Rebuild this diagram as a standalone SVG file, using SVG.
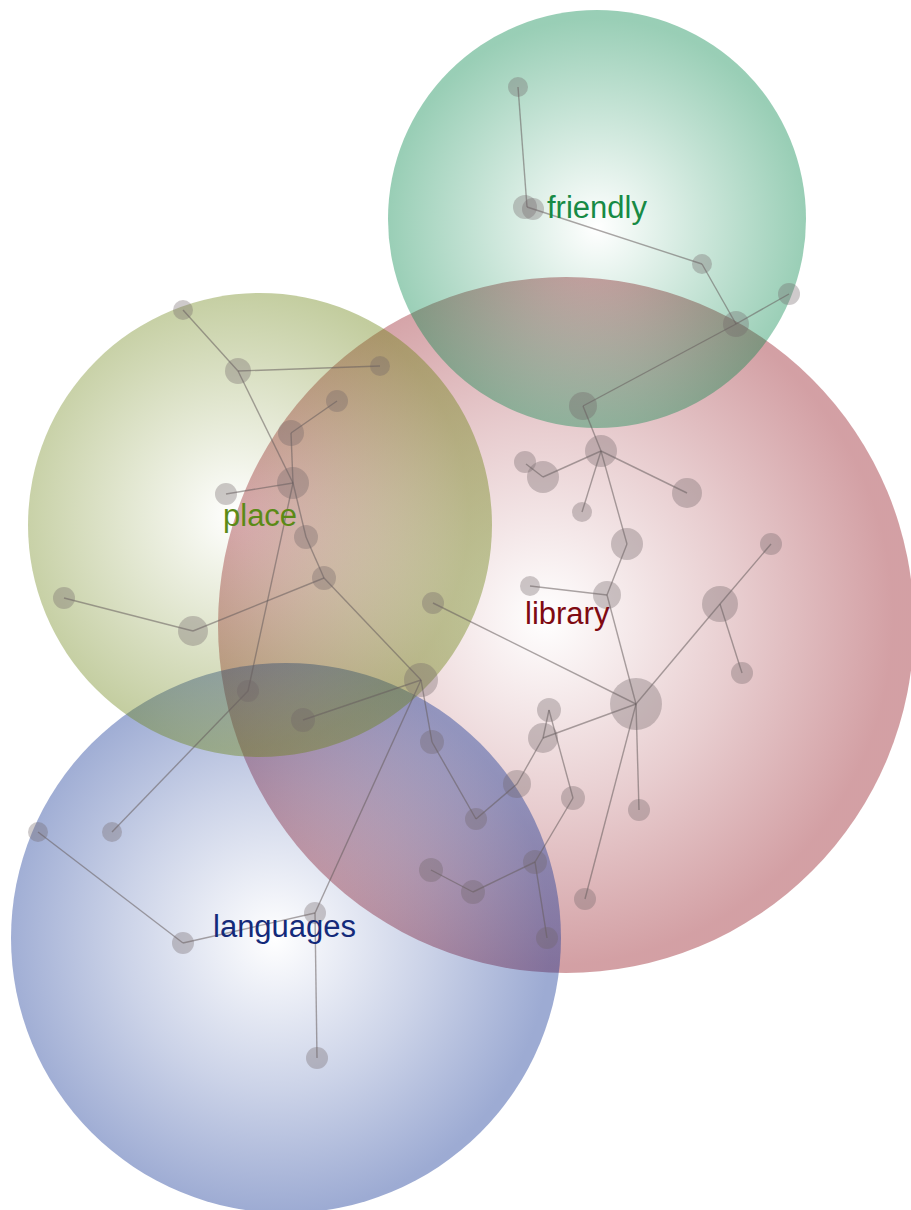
<svg xmlns="http://www.w3.org/2000/svg" width="911" height="1210" viewBox="0 0 911 1210">
<defs>
<radialGradient id="gGreen" cx="50%" cy="52%" r="50%">
<stop offset="0" stop-color="#008548" stop-opacity="0"/>
<stop offset="0.55" stop-color="#008548" stop-opacity="0.22"/>
<stop offset="1" stop-color="#008548" stop-opacity="0.4"/>
</radialGradient>
<radialGradient id="gRed" cx="47%" cy="49%" r="50%">
<stop offset="0" stop-color="#91111c" stop-opacity="0"/>
<stop offset="0.55" stop-color="#91111c" stop-opacity="0.21"/>
<stop offset="1" stop-color="#91111c" stop-opacity="0.4"/>
</radialGradient>
<radialGradient id="gOlive" cx="45%" cy="48%" r="50%">
<stop offset="0" stop-color="#67800c" stop-opacity="0"/>
<stop offset="0.55" stop-color="#67800c" stop-opacity="0.22"/>
<stop offset="1" stop-color="#67800c" stop-opacity="0.4"/>
</radialGradient>
<radialGradient id="gBlue" cx="48%" cy="50%" r="50%">
<stop offset="0" stop-color="#0a2d91" stop-opacity="0"/>
<stop offset="0.55" stop-color="#0a2d91" stop-opacity="0.21"/>
<stop offset="1" stop-color="#0a2d91" stop-opacity="0.4"/>
</radialGradient>
</defs>
<style>
.nd{fill:#6e6466;fill-opacity:0.34}
.ed line{stroke:#665c5c;stroke-opacity:0.55;stroke-width:1.4}
.lbl{font-family:"Liberation Sans",Arial,Helvetica,sans-serif;font-size:31px}
</style>
<rect width="911" height="1210" fill="#ffffff"/>
<g id="cluster-library"><circle cx="566" cy="625" r="348" fill="url(#gRed)"/></g>
<g id="cluster-languages"><circle cx="286" cy="938" r="275" fill="url(#gBlue)"/></g>
<g id="cluster-place"><circle cx="260" cy="525" r="232" fill="url(#gOlive)"/></g>
<g id="cluster-friendly"><circle cx="597" cy="219" r="209" fill="url(#gGreen)"/></g>

<g id="connectors" class="ed">
<line x1="518" y1="87" x2="527" y2="207"/>
<line x1="527" y1="207" x2="702" y2="264"/>
<line x1="702" y1="264" x2="736" y2="324"/>
<line x1="736" y1="324" x2="789" y2="294"/>
<line x1="736" y1="324" x2="583" y2="406"/>
<line x1="583" y1="406" x2="601" y2="451"/>
<line x1="601" y1="451" x2="543" y2="477"/>
<line x1="543" y1="477" x2="526" y2="464"/>
<line x1="601" y1="451" x2="582" y2="512"/>
<line x1="601" y1="451" x2="687" y2="493"/>
<line x1="601" y1="451" x2="627" y2="544"/>
<line x1="627" y1="544" x2="607" y2="595"/>
<line x1="607" y1="595" x2="530" y2="586"/>
<line x1="607" y1="595" x2="636" y2="704"/>
<line x1="636" y1="704" x2="433" y2="603"/>
<line x1="636" y1="704" x2="720" y2="604"/>
<line x1="720" y1="604" x2="771" y2="544"/>
<line x1="720" y1="604" x2="742" y2="673"/>
<line x1="636" y1="704" x2="543" y2="738"/>
<line x1="636" y1="704" x2="639" y2="810"/>
<line x1="636" y1="704" x2="585" y2="899"/>
<line x1="543" y1="738" x2="549" y2="710"/>
<line x1="549" y1="710" x2="573" y2="798"/>
<line x1="543" y1="738" x2="517" y2="784"/>
<line x1="517" y1="784" x2="476" y2="819"/>
<line x1="476" y1="819" x2="432" y2="742"/>
<line x1="432" y1="742" x2="421" y2="680"/>
<line x1="573" y1="798" x2="535" y2="862"/>
<line x1="535" y1="862" x2="473" y2="892"/>
<line x1="473" y1="892" x2="431" y2="870"/>
<line x1="535" y1="862" x2="547" y2="938"/>
<line x1="183" y1="310" x2="238" y2="371"/>
<line x1="238" y1="371" x2="380" y2="366"/>
<line x1="238" y1="371" x2="293" y2="483"/>
<line x1="337" y1="401" x2="291" y2="433"/>
<line x1="291" y1="433" x2="293" y2="483"/>
<line x1="226" y1="494" x2="293" y2="483"/>
<line x1="293" y1="483" x2="306" y2="537"/>
<line x1="306" y1="537" x2="324" y2="578"/>
<line x1="293" y1="483" x2="248" y2="691"/>
<line x1="324" y1="578" x2="193" y2="631"/>
<line x1="193" y1="631" x2="64" y2="598"/>
<line x1="324" y1="578" x2="421" y2="680"/>
<line x1="421" y1="680" x2="303" y2="720"/>
<line x1="248" y1="691" x2="112" y2="832"/>
<line x1="38" y1="832" x2="183" y2="943"/>
<line x1="183" y1="943" x2="315" y2="913"/>
<line x1="315" y1="913" x2="317" y2="1058"/>
<line x1="315" y1="913" x2="421" y2="680"/>
</g>

<g id="node-f1" class="nd"><circle cx="518" cy="87" r="10"/></g>
<g id="node-f2" class="nd"><circle cx="525" cy="207" r="12"/><circle cx="533" cy="209" r="11"/></g>
<g id="node-f3" class="nd"><circle cx="702" cy="264" r="10"/></g>
<g id="node-f4" class="nd"><circle cx="736" cy="324" r="13"/></g>
<g id="node-f5" class="nd"><circle cx="789" cy="294" r="11"/></g>
<g id="node-f6" class="nd"><circle cx="583" cy="406" r="14"/></g>

<g id="node-l1" class="nd"><circle cx="601" cy="451" r="16"/></g>
<g id="node-l2" class="nd"><circle cx="525" cy="462" r="11"/></g>
<g id="node-l3" class="nd"><circle cx="543" cy="477" r="16"/></g>
<g id="node-l4" class="nd"><circle cx="582" cy="512" r="10"/></g>
<g id="node-l5" class="nd"><circle cx="687" cy="493" r="15"/></g>
<g id="node-l6" class="nd"><circle cx="627" cy="544" r="16"/></g>
<g id="node-l7" class="nd"><circle cx="771" cy="544" r="11"/></g>
<g id="node-l8" class="nd"><circle cx="530" cy="586" r="10"/></g>
<g id="node-l9" class="nd"><circle cx="607" cy="595" r="14"/></g>
<g id="node-l10" class="nd"><circle cx="720" cy="604" r="18"/></g>
<g id="node-l11" class="nd"><circle cx="433" cy="603" r="11"/></g>
<g id="node-l12" class="nd"><circle cx="742" cy="673" r="11"/></g>
<g id="node-l13" class="nd"><circle cx="636" cy="704" r="26"/></g>
<g id="node-l14" class="nd"><circle cx="549" cy="710" r="12"/></g>
<g id="node-l15" class="nd"><circle cx="543" cy="738" r="15"/></g>
<g id="node-l16" class="nd"><circle cx="421" cy="680" r="17"/></g>
<g id="node-l17" class="nd"><circle cx="432" cy="742" r="12"/></g>
<g id="node-l18" class="nd"><circle cx="517" cy="784" r="14"/></g>
<g id="node-l19" class="nd"><circle cx="573" cy="798" r="12"/></g>
<g id="node-l20" class="nd"><circle cx="639" cy="810" r="11"/></g>
<g id="node-l21" class="nd"><circle cx="476" cy="819" r="11"/></g>
<g id="node-l22" class="nd"><circle cx="431" cy="870" r="12"/></g>
<g id="node-l23" class="nd"><circle cx="473" cy="892" r="12"/></g>
<g id="node-l24" class="nd"><circle cx="535" cy="862" r="12"/></g>
<g id="node-l25" class="nd"><circle cx="585" cy="899" r="11"/></g>
<g id="node-l26" class="nd"><circle cx="547" cy="938" r="11"/></g>

<g id="node-p1" class="nd"><circle cx="183" cy="310" r="10"/></g>
<g id="node-p2" class="nd"><circle cx="238" cy="371" r="13"/></g>
<g id="node-p3" class="nd"><circle cx="380" cy="366" r="10"/></g>
<g id="node-p4" class="nd"><circle cx="337" cy="401" r="11"/></g>
<g id="node-p5" class="nd"><circle cx="291" cy="433" r="13"/></g>
<g id="node-p6" class="nd"><circle cx="293" cy="483" r="16"/></g>
<g id="node-p7" class="nd"><circle cx="226" cy="494" r="11"/></g>
<g id="node-p8" class="nd"><circle cx="306" cy="537" r="12"/></g>
<g id="node-p9" class="nd"><circle cx="324" cy="578" r="12"/></g>
<g id="node-p10" class="nd"><circle cx="64" cy="598" r="11"/></g>
<g id="node-p11" class="nd"><circle cx="193" cy="631" r="15"/></g>
<g id="node-p12" class="nd"><circle cx="248" cy="691" r="11"/></g>
<g id="node-p13" class="nd"><circle cx="303" cy="720" r="12"/></g>

<g id="node-g1" class="nd"><circle cx="38" cy="832" r="10"/></g>
<g id="node-g2" class="nd"><circle cx="112" cy="832" r="10"/></g>
<g id="node-g3" class="nd"><circle cx="183" cy="943" r="11"/></g>
<g id="node-g4" class="nd"><circle cx="315" cy="913" r="11"/></g>
<g id="node-g5" class="nd"><circle cx="317" cy="1058" r="11"/></g>

<g id="labels">
<text class="lbl" x="547" y="218" fill="#178a45">friendly</text>
<text class="lbl" x="223" y="526" fill="#5b8a16">place</text>
<text class="lbl" x="525" y="624" fill="#7f0a12">library</text>
<text class="lbl" x="213" y="937" fill="#142a7a">languages</text>
</g>
</svg>
